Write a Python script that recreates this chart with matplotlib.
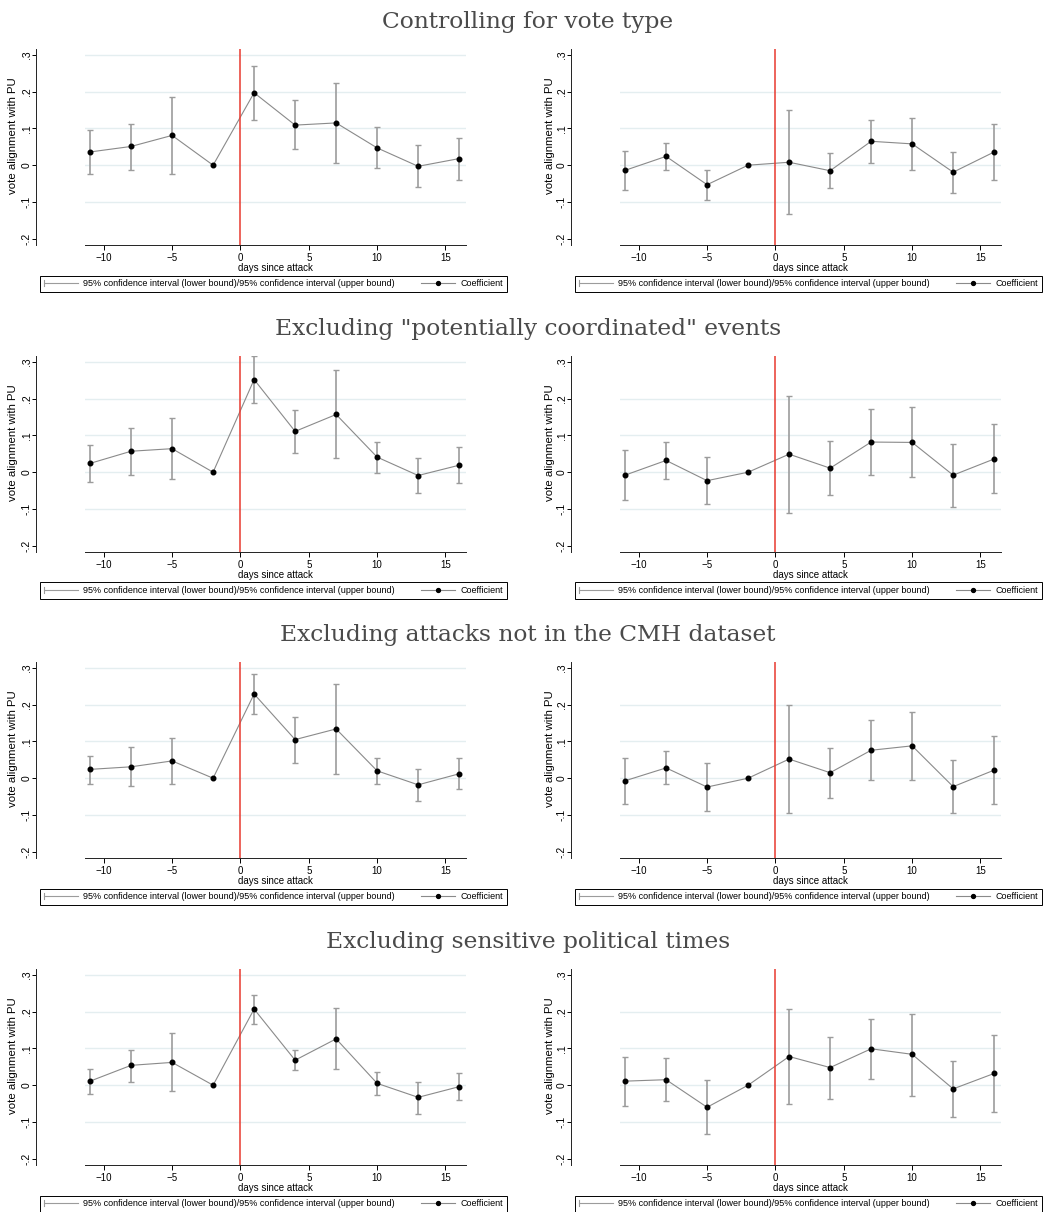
import numpy as np
import matplotlib
matplotlib.use("Agg")
import matplotlib.pyplot as plt
from matplotlib.lines import Line2D
from matplotlib.legend_handler import HandlerBase

plt.rcParams['font.family'] = ['Liberation Sans', 'DejaVu Sans']

# Jours depuis l'attaque
jours = [-11, -8, -5, -2, 1, 4, 7, 10, 13, 16]

titres = ["Controlling for vote type",
          'Excluding "potentially coordinated" events',
          "Excluding attacks not in the CMH dataset",
          "Excluding sensitive political times"]

nan = np.nan

# Ligne 1 : contrôle du type de vote
coef_1g = [0.036, 0.051, 0.081, 0, 0.197, 0.109, 0.115, 0.047, -0.003, 0.018]
bas_1g = [-0.024, -0.013, -0.024, nan, 0.124, 0.043, 0.006, -0.008, -0.060, -0.040]
haut_1g = [0.096, 0.113, 0.186, nan, 0.271, 0.177, 0.223, 0.103, 0.055, 0.075]
coef_1d = [-0.014, 0.024, -0.053, 0, 0.008, -0.015, 0.065, 0.058, -0.019, 0.036]
bas_1d = [-0.067, -0.014, -0.095, nan, -0.132, -0.063, 0.006, -0.012, -0.075, -0.040]
haut_1d = [0.039, 0.060, -0.012, nan, 0.149, 0.032, 0.123, 0.128, 0.037, 0.112]

# Ligne 2 : sans événements "potentiellement coordonnés"
coef_2g = [0.024, 0.057, 0.064, 0, 0.252, 0.111, 0.157, 0.041, -0.009, 0.019]
bas_2g = [-0.026, -0.008, -0.019, nan, 0.189, 0.052, 0.038, -0.002, -0.057, -0.030]
haut_2g = [0.074, 0.121, 0.147, nan, 0.315, 0.169, 0.278, 0.083, 0.039, 0.069]
coef_2d = [-0.008, 0.032, -0.023, 0, 0.049, 0.011, 0.082, 0.081, -0.008, 0.036]
bas_2d = [-0.076, -0.019, -0.086, nan, -0.110, -0.062, -0.007, -0.014, -0.095, -0.057]
haut_2d = [0.061, 0.081, 0.040, nan, 0.207, 0.084, 0.173, 0.177, 0.078, 0.130]

# Ligne 3 : attaques absentes de CMH exclues
coef_3g = [0.024, 0.031, 0.047, 0, 0.229, 0.105, 0.134, 0.020, -0.018, 0.012]
bas_3g = [-0.016, -0.022, -0.015, nan, 0.175, 0.042, 0.011, -0.017, -0.063, -0.029]
haut_3g = [0.061, 0.085, 0.110, nan, 0.283, 0.167, 0.256, 0.056, 0.026, 0.055]
coef_3d = [-0.007, 0.028, -0.024, 0, 0.052, 0.015, 0.076, 0.088, -0.023, 0.022]
bas_3d = [-0.070, -0.017, -0.090, nan, -0.095, -0.054, -0.005, -0.005, -0.095, -0.071]
haut_3d = [0.055, 0.074, 0.041, nan, 0.199, 0.082, 0.157, 0.180, 0.049, 0.115]

# Ligne 4 : périodes politiques sensibles exclues
coef_4g = [0.011, 0.054, 0.062, 0, 0.207, 0.068, 0.126, 0.005, -0.033, -0.004]
bas_4g = [-0.023, 0.009, -0.015, nan, 0.167, 0.041, 0.044, -0.026, -0.077, -0.040]
haut_4g = [0.043, 0.097, 0.141, nan, 0.246, 0.095, 0.209, 0.036, 0.008, 0.032]
coef_4d = [0.011, 0.015, -0.060, 0, 0.078, 0.048, 0.099, 0.084, -0.010, 0.032]
bas_4d = [-0.056, -0.044, -0.134, nan, -0.050, -0.037, 0.016, -0.029, -0.086, -0.072]
haut_4d = [0.077, 0.075, 0.014, nan, 0.207, 0.132, 0.181, 0.193, 0.066, 0.136]

panneaux = [
    [(coef_1g, bas_1g, haut_1g), (coef_1d, bas_1d, haut_1d)],
    [(coef_2g, bas_2g, haut_2g), (coef_2d, bas_2d, haut_2d)],
    [(coef_3g, bas_3g, haut_3g), (coef_3d, bas_3d, haut_3d)],
    [(coef_4g, bas_4g, haut_4g), (coef_4d, bas_4d, haut_4d)],
]

texte_ic = "95% confidence interval (lower bound)/95% confidence interval (upper bound)"
texte_coef = "Coefficient"

gris_ic = '#9c9c9c'
gris_ligne = '#8a8a8a'
couleur_grille = '#e4eef0'

W, H = 1046, 1212
fig = plt.figure(figsize=(W / 100, H / 100), dpi=100)


class PoigneeLegende(HandlerBase):
    # petite poignée de légende façon Stata
    def __init__(self, cap=False, point=False):
        super().__init__()
        self.cap = cap
        self.point = point

    def create_artists(self, legend, orig_handle, xdescent, ydescent,
                       width, height, fontsize, trans):
        y = height / 2 - ydescent
        x0, x1 = -xdescent, width - xdescent
        couleur = gris_ic if self.cap else gris_ligne
        artistes = [Line2D([x0, x1], [y, y], color=couleur, lw=0.8)]
        if self.cap:
            artistes.append(Line2D([x0, x0], [y - 2, y + 2], color=couleur, lw=0.8))
        if self.point:
            artistes.append(Line2D([(x0 + x1) / 2], [y], marker='o', ms=2.8,
                                   color='black', ls='none'))
        for a in artistes:
            a.set_transform(trans)
        return artistes


gauches = [85, 620]
largeur = 381
hauteur = 196
bas_axes = [245, 552, 858, 1165]
gauches_legende = [40, 575]
largeur_legende = 467
pos_ylabel = [-0.19, -0.185]

x = np.array(jours)
for i, ligne in enumerate(panneaux):
    yb = bas_axes[i]
    fig.text(528 / W, 1 - (yb - 223) / H, titres[i], family='DejaVu Serif',
             fontsize=16.8, color='#4a4a4a', ha='center', va='center')
    for j, (coef, bas, haut) in enumerate(ligne):
        ax = fig.add_axes([gauches[j] / W, 1 - yb / H, largeur / W, hauteur / H])
        coef = np.array(coef)
        bas = np.array(bas)
        haut = np.array(haut)

        # lignes de grille
        niveaux = [-0.1, 0, 0.1, 0.2, 0.3] if j == 0 else [-0.1, 0, 0.1, 0.2]
        for niv in niveaux:
            ax.axhline(niv, color=couleur_grille, lw=1.0, zorder=0)

        ok = ~np.isnan(bas)
        ax.errorbar(x[ok], coef[ok], yerr=[coef[ok] - bas[ok], haut[ok] - coef[ok]],
                    fmt='none', ecolor=gris_ic, elinewidth=1.2, capsize=2.4,
                    capthick=1.0, zorder=2)
        ax.plot(x, coef, color=gris_ligne, lw=0.8, zorder=3)
        ax.plot(x, coef, 'o', color='black', ms=3.3, zorder=4)
        ax.axvline(0, color='#e8392f', lw=1.1, zorder=5)

        ax.set_xlim(-11.37, 16.5)
        ax.set_ylim(-0.217, 0.316)
        ax.set_xticks([-10, -5, 0, 5, 10, 15])
        ax.set_yticks([-0.2, -0.1, 0, 0.1, 0.2, 0.3])
        ax.set_yticklabels(['-.2', '-.1', '0', '.1', '.2', '.3'])

        ax.spines['top'].set_visible(False)
        ax.spines['right'].set_visible(False)
        ax.spines['left'].set_position(('outward', 35))
        for s in ['left', 'bottom']:
            ax.spines[s].set_linewidth(0.7)
            ax.spines[s].set_color('#222222')
        ax.tick_params(axis='y', length=3, width=0.7, pad=0.5, labelsize=7.5,
                       labelrotation=90)
        ax.tick_params(axis='x', length=3.5, width=0.7, pad=2, labelsize=7)
        for lab in ax.get_yticklabels():
            lab.set_va('center')
        ax.set_xlabel("days since attack", fontsize=7, labelpad=0.3)
        ax.set_ylabel("vote alignment with PU", fontsize=8.2, va='center')
        ax.yaxis.set_label_coords(pos_ylabel[j], 0.56)

        h_ic = Line2D([], [], color=gris_ic)
        h_coef = Line2D([], [], color=gris_ligne, marker='o')
        leg = fig.legend(handles=[h_ic, h_coef], labels=[texte_ic, texte_coef],
                         handler_map={h_ic: PoigneeLegende(cap=True),
                                      h_coef: PoigneeLegende(point=True)},
                         ncol=2, mode='expand', loc='upper left',
                         bbox_to_anchor=(gauches_legende[j] / W, 1 - (yb + 30.5) / H,
                                         largeur_legende / W, 0),
                         bbox_transform=fig.transFigure, fontsize=6.5,
                         frameon=True, fancybox=False, edgecolor='black',
                         framealpha=1, borderpad=0.4, handlelength=3.8,
                         handletextpad=0.6, borderaxespad=0, columnspacing=1)
        leg.get_frame().set_linewidth(0.7)

fig.savefig("out.png", dpi=100)
